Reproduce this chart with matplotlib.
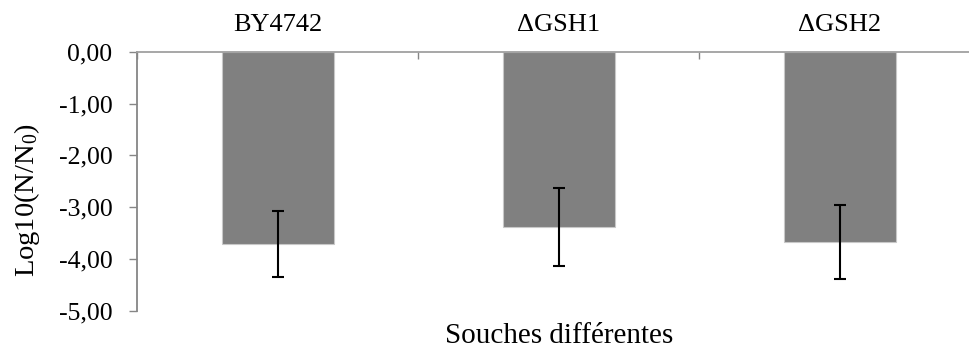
import matplotlib.pyplot as plt
import numpy as np

souches = ['BY4742', '\u0394GSH1', '\u0394GSH2']
log_moy = [-3.71, -3.38, -3.67]
ecart = [0.635, 0.75, 0.715]
yticks = [0, -1, -2, -3, -4, -5]
ytick_labels = ['0,00', '-1,00', '-2,00', '-3,00', '-4,00', '-5,00']

plt.rcParams['font.family'] = ['Liberation Serif', 'DejaVu Serif']
plt.rcParams['mathtext.fontset'] = 'custom'
plt.rcParams['mathtext.rm'] = 'Liberation Serif'
plt.rcParams['mathtext.it'] = 'Liberation Serif:italic'

fig = plt.figure(figsize=(9.69, 3.47), dpi=100)
ax = fig.add_axes([0.1417, 0.1046, 0.870, 0.7464])

x = np.arange(len(souches))
ax.bar(x, log_moy, width=0.4, color='#808080', edgecolor='#c8c8c8', linewidth=0.8, zorder=2)
ax.errorbar(x, log_moy, yerr=ecart, fmt='none', ecolor='black', elinewidth=1.5,
            capsize=4, capthick=1.5, zorder=3)

ax.set_xlim(-0.5, 2.5)
ax.set_ylim(-5, 0)

# axe des categories en haut
ax.xaxis.tick_top()
ax.set_xticks(x)
ax.set_xticklabels(souches, fontsize=19)
ax.set_xticks([-0.5, 0.5, 1.5, 2.5], minor=True)
ax.tick_params(axis='x', which='major', length=0, pad=11.5)
ax.tick_params(axis='x', which='minor', direction='in', length=5, color='#868686', width=1)

ax.set_yticks(yticks)
ax.set_yticklabels(ytick_labels, fontsize=18.5)
ax.tick_params(axis='y', direction='out', length=5.8, color='#868686', width=1, pad=12)

ax.spines['right'].set_visible(False)
ax.spines['bottom'].set_visible(False)
ax.spines['left'].set_color('#868686')
ax.spines['top'].set_color('#a0a0a0')
ax.spines['left'].set_linewidth(1.3)
ax.spines['top'].set_linewidth(1.3)

ax.xaxis.set_label_position('bottom')
ax.set_xlabel('Souches diff\u00e9rentes', fontsize=21, va='baseline')
ax.xaxis.set_label_coords(0.5, -0.1236)

ax.set_ylabel('Log10(N/N$_\\mathrm{0}$)', fontsize=20.5, va='center')
ax.yaxis.set_label_coords(-0.1306, 0.4274)

plt.savefig('out.png', dpi=100)
